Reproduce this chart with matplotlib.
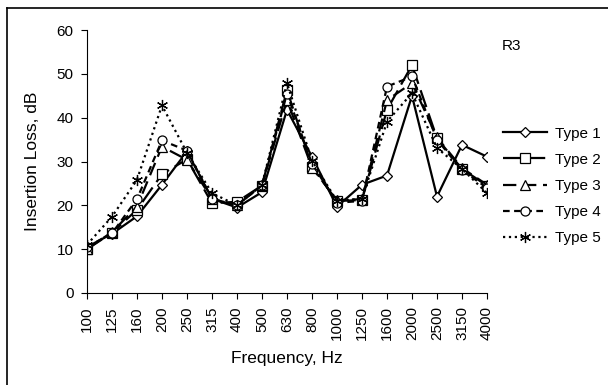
import matplotlib
matplotlib.use("Agg")
import matplotlib.pyplot as plt
from matplotlib.lines import Line2D
import numpy as np

plt.rcParams["font.family"] = ["Liberation Sans", "DejaVu Sans"]

frequencies = ["100", "125", "160", "200", "250", "315", "400", "500", "630",
               "800", "1000", "1250", "1600", "2000", "2500", "3150", "4000"]

type1 = [10.5, 13.5, 17.5, 24.7, 32.3, 21.5, 19.5, 23.0, 41.8, 31.1, 19.7, 24.7, 26.8, 45.0, 22.0, 33.8, 31.1]
type2 = [10.0, 13.7, 19.0, 27.1, 30.5, 20.5, 20.8, 24.5, 46.3, 28.8, 21.0, 21.2, 41.8, 52.0, 35.3, 28.3, 24.5]
type3 = [10.0, 13.9, 19.7, 33.4, 30.4, 21.5, 20.0, 24.6, 44.0, 28.6, 21.2, 21.4, 44.0, 47.9, 35.5, 28.5, 24.7]
type4 = [10.5, 13.6, 21.4, 34.8, 32.5, 21.5, 20.0, 24.6, 45.5, 29.5, 20.6, 21.0, 47.1, 49.4, 35.0, 28.0, 24.0]
type5 = [11.0, 17.4, 25.8, 42.8, 32.0, 22.8, 20.0, 24.6, 47.9, 30.2, 21.0, 21.5, 39.1, 45.6, 33.1, 28.3, 22.8]

series = [
    ("Type 1", type1, "D", "-", 5.0),
    ("Type 2", type2, "s", (0, (8, 3)), 7.0),
    ("Type 3", type3, "^", (0, (6, 3)), 7.0),
    ("Type 4", type4, "o", (0, (3, 2)), 6.5),
    ("Type 5", type5, (6, 2, 0), ":", 8.0),
]

fig = plt.figure(figsize=(6.08, 3.85), dpi=100)
ax = fig.add_axes([0.143, 0.239, 0.658, 0.683])

x = np.arange(len(frequencies))
for name, vals, marker, ls, ms in series:
    ax.plot(x, vals, color="black", linestyle=ls, linewidth=1.6,
            marker=marker, markersize=ms, markerfacecolor="white",
            markeredgecolor="black", markeredgewidth=0.9, label=name)

ax.set_xlim(0, len(frequencies) - 1)
ax.set_ylim(0, 60)
ax.set_yticks(range(0, 61, 10))
ax.set_xticks(x)
ax.set_xticklabels(frequencies, rotation=90)
ax.tick_params(labelsize=11, direction="out", length=4.5, color="black")
ax.tick_params(axis="x", pad=5)
ax.tick_params(axis="y", pad=5)
ax.spines["top"].set_visible(False)
ax.spines["right"].set_visible(False)
ax.set_ylabel("Insertion Loss, dB", fontsize=12.5, labelpad=12)
ax.set_xlabel("Frequency, Hz", fontsize=12.5, labelpad=8)

fig.text(0.826, 0.88, "R3", fontsize=11, va="center")

ax.legend(loc="center left", bbox_to_anchor=(0.804, 0.517), bbox_transform=fig.transFigure,
          frameon=False, fontsize=11, handlelength=2.9, labelspacing=0.8,
          handletextpad=0.5)

# outer frame: only the left and top edges fall inside the picture
fig.add_artist(Line2D([0.011, 0.011], [0.0, 0.979], transform=fig.transFigure,
                      color="black", linewidth=1.2))
fig.add_artist(Line2D([0.011, 1.0], [0.979, 0.979], transform=fig.transFigure,
                      color="black", linewidth=1.2))

fig.savefig("out.png", dpi=100)
